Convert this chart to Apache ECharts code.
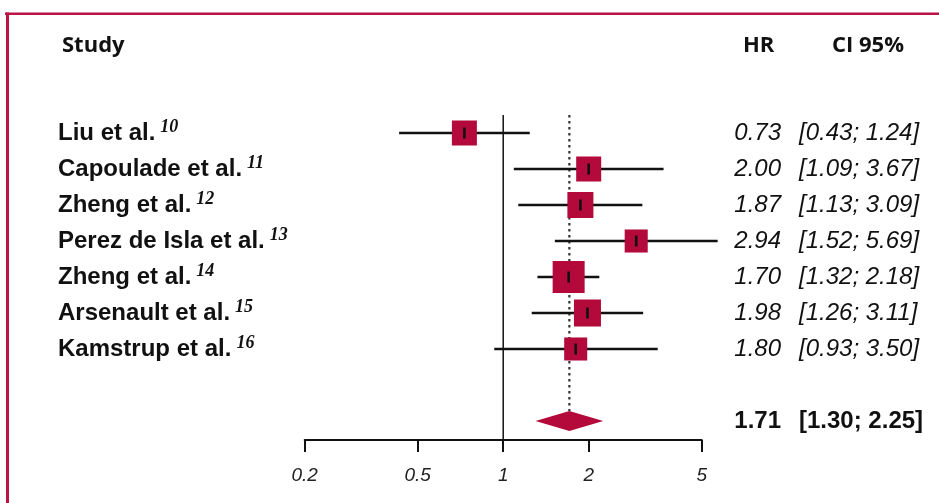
<!DOCTYPE html>
<html><head><meta charset="utf-8">
<script src="https://cdn.jsdelivr.net/npm/echarts@6/dist/echarts.min.js"></script>
<style>html,body{margin:0;padding:0;background:#fff}#c{width:939px;height:503px}</style>
</head><body><div id="c"></div>
<script>
// ---- data ----
const studies = ['Liu et al.', 'Capoulade et al.', 'Zheng et al.', 'Perez de Isla et al.', 'Zheng et al.', 'Arsenault et al.', 'Kamstrup et al.'];
const refs = ['10', '11', '12', '13', '14', '15', '16'];
const hr = [0.73, 2.00, 1.87, 2.94, 1.70, 1.98, 1.80];
const lower = [0.43, 1.09, 1.13, 1.52, 1.32, 1.26, 0.93];
const upper = [1.24, 3.67, 3.09, 5.69, 2.18, 3.11, 3.50];
const weights = [13.2, 13.2, 14.3, 11.2, 21.6, 15.4, 11.2];
const pooledHR = 1.71;
const pooledLower = 1.30;
const pooledUpper = 2.25;
const xTicks = [0.2, 0.5, 1, 2, 5];
const headers = ['Study', 'HR', 'CI 95%'];

// ---- styles ----
const RED = '#B3093B';
const FRAME = '#BA1446';
const INK = '#111';
const summaryRow = studies.length + 1;

const chart = echarts.init(document.getElementById('c'), null, {renderer: 'canvas'});

const studyData = studies.map((s, i) => [hr[i], i, lower[i], upper[i], weights[i]]);

function fmt(v) { return v.toFixed(2); }

const HFONT = 'bold 22px "Open Sans", sans-serif';

const option = {
  animation: false,
  backgroundColor: '#fff',
  grid: {left: 304.7, right: 237.3, top: 115, bottom: 63},
  xAxis: {
    type: 'log', logBase: 10, min: 0.2, max: 5,
    axisLine: {show: true, onZero: false, lineStyle: {color: INK, width: 2}},
    axisTick: {show: true, customValues: xTicks, length: 12, lineStyle: {color: INK, width: 2}},
    axisLabel: {
      customValues: xTicks, margin: 26,
      formatter: v => '{a|' + String(+(+v).toPrecision(3)) + '}',
      rich: {a: {fontSize: 19, fontStyle: 'italic', fontFamily: '"Liberation Sans", Arial, sans-serif', color: '#222'}}
    },
    splitLine: {show: false}, minorTick: {show: false}
  },
  yAxis: {type: 'value', inverse: true, min: -0.5, max: 325 / 36 - 0.5, show: false},
  graphic: [
    {type: 'line', shape: {x1: 5, y1: 13.8, x2: 939, y2: 13.8}, style: {stroke: FRAME, lineWidth: 2.5}},
    {type: 'line', shape: {x1: 7.5, y1: 12.6, x2: 7.5, y2: 503}, style: {stroke: FRAME, lineWidth: 3}},
    {type: 'text', x: 62, y: 46, style: {text: headers[0], font: HFONT, fill: INK, verticalAlign: 'middle'}},
    {type: 'text', x: 743, y: 46, style: {text: headers[1], font: HFONT, fill: INK, verticalAlign: 'middle'}},
    {type: 'text', x: 832, y: 46, style: {text: headers[2], font: HFONT, fill: INK, verticalAlign: 'middle'}}
  ],
  series: [
    {
      // summary: reference line at 1, dotted pooled line, diamond, pooled text
      type: 'custom', z: 1,
      data: [[pooledHR, summaryRow, pooledLower, pooledUpper]],
      encode: {x: 0, y: 1},
      renderItem: function (params, api) {
        const y = api.value(1);
        const est = api.coord([api.value(0), y]);
        const lo = api.coord([api.value(2), y]);
        const hi = api.coord([api.value(3), y]);
        const top1 = api.coord([1, -0.5]);
        const bot1 = api.coord([1, 325 / 36 - 0.5]);
        const topP = api.coord([api.value(0), -0.5]);
        const h = 10;
        return {
          type: 'group',
          children: [
            {type: 'line', shape: {x1: top1[0], y1: top1[1], x2: bot1[0], y2: bot1[1]}, style: {stroke: INK, lineWidth: 1.5}},
            {type: 'line', shape: {x1: topP[0], y1: topP[1], x2: est[0], y2: est[1] - h}, style: {stroke: '#333', lineWidth: 2.2, lineDash: [2.5, 3.5]}},
            {type: 'polygon', shape: {points: [[lo[0], est[1]], [est[0], est[1] - h], [hi[0], est[1]], [est[0], est[1] + h]]}, style: {fill: RED}},
            {type: 'text', style: {x: 781, y: est[1], text: fmt(api.value(0)), align: 'right', verticalAlign: 'middle', font: 'bold 24px "Liberation Sans", Arial, sans-serif', fill: INK}},
            {type: 'text', style: {x: 799, y: est[1], text: '[' + fmt(api.value(2)) + '; ' + fmt(api.value(3)) + ']', align: 'left', verticalAlign: 'middle', font: 'bold 24px "Liberation Sans", Arial, sans-serif', fill: INK}}
          ]
        };
      }
    },
    {
      type: 'custom', z: 3,
      data: studyData,
      encode: {x: 0, y: 1},
      renderItem: function (params, api) {
        const i = params.dataIndex;
        const y = api.value(1);
        const est = api.coord([api.value(0), y]);
        const lo = api.coord([api.value(2), y]);
        const hi = api.coord([api.value(3), y]);
        const s = 6.885 * Math.sqrt(api.value(4));
        return {
          type: 'group',
          children: [
            {type: 'line', shape: {x1: lo[0], y1: est[1], x2: hi[0], y2: est[1]}, style: {stroke: INK, lineWidth: 2.6}},
            {type: 'rect', shape: {x: est[0] - s / 2, y: est[1] - s / 2, width: s, height: s}, style: {fill: RED}},
            {type: 'line', shape: {x1: est[0], y1: est[1] - 5.5, x2: est[0], y2: est[1] + 5.5}, style: {stroke: INK, lineWidth: 2.6}},
            {type: 'text', style: {
              x: 58, y: est[1], align: 'left', verticalAlign: 'middle',
              text: '{n|' + studies[i] + '}{s|' + refs[i] + '}',
              rich: {
                n: {fontSize: 24, lineHeight: 30, fontWeight: 'bold', fontFamily: '"Liberation Sans", Arial, sans-serif', fill: INK, color: INK},
                s: {fontSize: 18, lineHeight: 14, verticalAlign: 'top', fontWeight: 'bold', fontStyle: 'italic', fontFamily: '"Liberation Serif", "Times New Roman", serif', fill: INK, color: INK, padding: [0, 0, 0, 5]}
              }
            }},
            {type: 'text', style: {x: 781, y: est[1], text: fmt(api.value(0)), align: 'right', verticalAlign: 'middle', font: 'italic 24px "Liberation Sans", Arial, sans-serif', fill: INK}},
            {type: 'text', style: {x: 799, y: est[1], text: '[' + fmt(api.value(2)) + '; ' + fmt(api.value(3)) + ']', align: 'left', verticalAlign: 'middle', font: 'italic 24px "Liberation Sans", Arial, sans-serif', fill: INK}}
          ]
        };
      }
    }
  ]
};
chart.setOption(option);
</script>
</body></html>
